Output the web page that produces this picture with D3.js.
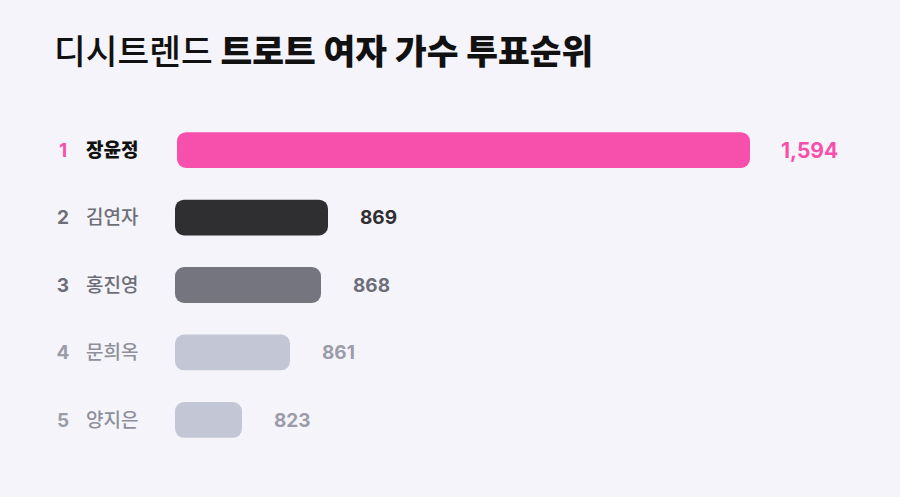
<!DOCTYPE html>
<html>
<head>
<meta charset="utf-8">
<script src="https://cdn.jsdelivr.net/npm/d3@7"></script>
<style>
  html, body { margin: 0; padding: 0; background: #f5f4fa; }
  svg { display: block; }
</style>
</head>
<body>
<svg id="chart" width="900" height="497"></svg>
<script>
// data
var ranks = [1, 2, 3, 4, 5]
var names = ["장윤정", "김연자", "홍진영", "문희옥", "양지은"]
var votes = [1594, 869, 868, 861, 823]

var W = 900, H = 497
var kr = "'Noto Sans CJK KR', 'Noto Sans', sans-serif"
var num = "Inter, 'Noto Sans', sans-serif"

var svg = d3.select("#chart")

svg.append("rect")
    .attr("width", W)
    .attr("height", H)
    .attr("fill", "#f5f4fa")

// title
var title = svg.append("text")
    .attr("x", 54)
    .attr("y", 64)
    .attr("font-family", kr)
    .attr("font-size", 34.5)
    .attr("fill", "#111")
title.append("tspan").attr("font-weight", 500).text("디시트렌드 ")
title.append("tspan").attr("font-weight", 900).text("트로트 여자 가수 투표순위")

// rows
var y = d3.scaleBand()
    .domain(ranks)
    .range([116, 454])
    .paddingInner(0.47)
    .paddingOuter(0.24)

// the bars in the picture are not proportional, so the scale is piecewise
var sorted = votes.slice().sort(d3.ascending)
var x = d3.scaleLinear()
    .domain(sorted)
    .range([67, 115, 146, 153, 573])

var barColor = ["#f74fac", "#2f2f31", "#74757f", "#c3c6d4", "#c3c6d4"]
var rankColor = ["#f74fac", "#6e6e78", "#6e6e78", "#9b9ca7", "#9b9ca7"]
var nameColor = ["#111111", "#6e6e78", "#6e6e78", "#8e8f9a", "#8e8f9a"]
var valColor = ["#f74fac", "#2f2f31", "#6e6e78", "#9b9ca7", "#9b9ca7"]

var fmt = d3.format(",")

var rows = svg.selectAll("g.row")
    .data(ranks)
    .join("g")
    .attr("class", "row")
    .attr("transform", function(d) { return "translate(0," + y(d) + ")" })

var bh = y.bandwidth()

rows.append("rect")
    .attr("x", function(d, i) { return i == 0 ? 177 : 175 })
    .attr("y", 0)
    .attr("height", bh)
    .attr("width", function(d, i) { return x(votes[i]) })
    .attr("rx", 9)
    .attr("fill", function(d, i) { return barColor[i] })

rows.append("text")
    .attr("x", 63)
    .attr("y", bh / 2)
    .attr("dy", "0.36em")
    .attr("text-anchor", "middle")
    .attr("font-family", num)
    .attr("font-size", 19)
    .attr("font-weight", 700)
    .attr("fill", function(d, i) { return rankColor[i] })
    .text(function(d) { return d })

rows.append("text")
    .attr("x", 86)
    .attr("y", bh / 2)
    .attr("dy", "0.36em")
    .attr("font-family", kr)
    .attr("font-size", 19)
    .attr("font-weight", function(d, i) { return i == 0 ? 900 : 500 })
    .attr("fill", function(d, i) { return nameColor[i] })
    .text(function(d, i) { return names[i] })

rows.append("text")
    .attr("x", function(d, i) { return (i == 0 ? 177 : 175) + x(votes[i]) + (i == 0 ? 31 : 32) })
    .attr("y", bh / 2)
    .attr("dy", "0.36em")
    .attr("font-family", num)
    .attr("font-size", function(d, i) { return i == 0 ? 21 : 19 })
    .attr("font-weight", 700)
    .attr("fill", function(d, i) { return valColor[i] })
    .text(function(d, i) { return fmt(votes[i]) })
</script>
</body>
</html>
